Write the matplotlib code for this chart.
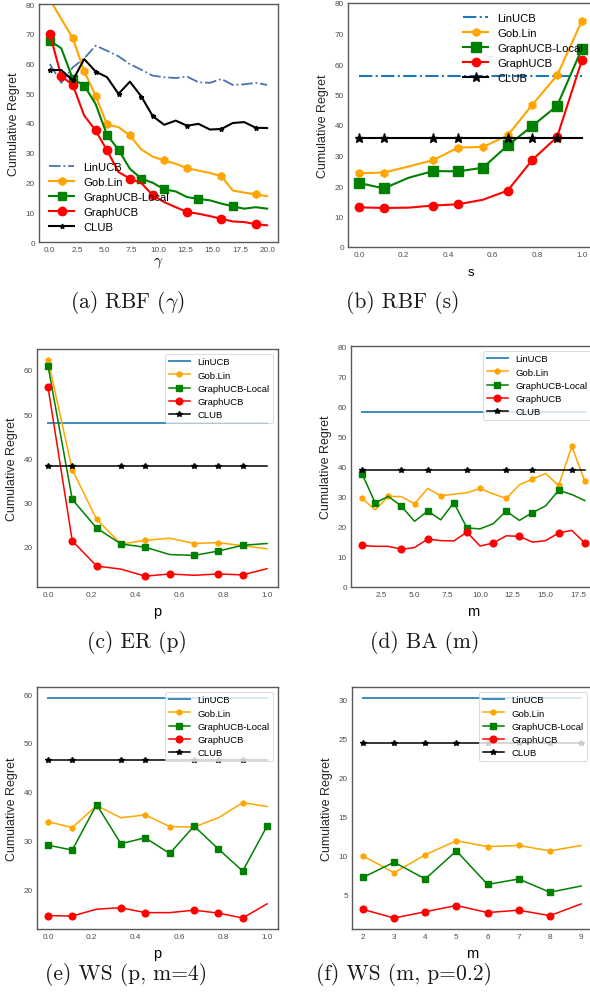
import numpy as np
import matplotlib
matplotlib.use("Agg")
import matplotlib.pyplot as plt

plt.rcParams["font.family"] = ["Liberation Sans", "DejaVu Sans"]
plt.rcParams["mathtext.fontset"] = "cm"

labels = ["LinUCB", "Gob.Lin", "GraphUCB-Local", "GraphUCB", "CLUB"]

# (a) RBF (gamma)
gamma = [0.0, 1.05, 2.11, 3.16, 4.21, 5.26, 6.32, 7.37, 8.42, 9.47,
         10.53, 11.58, 12.63, 13.68, 14.74, 15.79, 16.84, 17.89, 18.95, 20.0]
a_lin = [59.8, 53.5, 58.7, 61.7, 66.0, 64.3, 62.4, 59.8, 57.9, 55.9,
         55.4, 55.1, 55.6, 53.7, 53.5, 54.8, 52.8, 53.0, 53.5, 52.8]
a_gob = [81.5, 75.0, 68.5, 57.4, 49.2, 39.5, 38.6, 35.8, 31.1, 28.7,
         27.4, 26.3, 24.8, 24.0, 23.2, 22.1, 17.3, 16.6, 16.0, 15.4]
a_local = [67.7, 65.1, 54.8, 52.6, 46.4, 36.0, 31.0, 24.6, 21.3, 19.9,
           17.7, 17.0, 15.1, 14.5, 14.0, 12.9, 12.0, 11.2, 11.7, 11.2]
a_graph = [69.9, 55.7, 52.8, 42.5, 37.5, 30.8, 23.5, 21.3, 19.8, 15.7,
           13.4, 11.7, 10.1, 9.5, 8.7, 7.8, 6.9, 6.7, 6.0, 5.6]
a_club = [57.8, 57.8, 54.3, 61.5, 57.3, 55.4, 49.8, 53.9, 48.9, 42.3,
          39.4, 40.8, 39.1, 39.7, 37.8, 38.0, 40.0, 40.3, 38.4, 38.3]

# (b) RBF (s)
s_vals = [0.0, 0.111, 0.222, 0.333, 0.444, 0.556, 0.667, 0.778, 0.889, 1.0]
b_lin = 56.2
b_gob = [24.2, 24.4, 26.4, 28.5, 32.6, 32.8, 36.6, 46.7, 56.3, 74.1]
b_local = [21.0, 19.2, 22.7, 24.9, 24.8, 26.0, 33.3, 39.7, 46.3, 65.0]
b_graph = [13.0, 12.8, 12.9, 13.6, 14.0, 15.5, 18.5, 28.6, 36.1, 61.2]
b_club = 35.6

# (c) ER (p)
p_vals = [0.0, 0.111, 0.222, 0.333, 0.444, 0.556, 0.667, 0.778, 0.889, 1.0]
c_lin = 48.0
c_gob = [62.3, 37.4, 26.2, 20.6, 21.4, 21.9, 20.7, 20.9, 20.2, 19.5]
c_local = [61.0, 30.7, 24.2, 20.6, 19.85, 18.2, 18.0, 19.0, 20.3, 20.7]
c_graph = [56.2, 21.3, 15.6, 14.9, 13.3, 13.8, 13.5, 13.8, 13.6, 15.0]
c_club = 38.3

# (d) BA (m)
m_ba = list(range(1, 19))
d_lin = 58.0
d_gob = [29.4, 25.6, 30.1, 30.0, 27.6, 32.7, 30.3, 30.8, 31.3, 32.7,
         30.9, 29.4, 33.9, 35.8, 37.7, 33.7, 46.7, 35.1]
d_local = [37.5, 27.9, 30.1, 26.8, 21.8, 25.2, 22.3, 28.0, 19.6, 19.3,
           21.0, 25.2, 22.1, 24.7, 26.9, 32.1, 30.7, 28.7]
d_graph = [13.8, 13.5, 13.5, 12.5, 13.1, 15.9, 15.4, 15.3, 18.2, 13.6,
           14.6, 17.0, 16.8, 14.9, 15.4, 17.9, 18.8, 14.6]
d_club = 38.95

# (e) WS (p, m=4)
e_lin = 59.2
e_gob = [33.9, 32.7, 37.2, 34.7, 35.3, 32.9, 32.8, 34.7, 37.8, 37.0]
e_local = [29.1, 28.1, 37.4, 29.4, 30.6, 27.4, 33.0, 28.3, 23.8, 33.0]
e_graph = [14.7, 14.6, 16.0, 16.3, 15.3, 15.3, 15.8, 15.2, 14.2, 17.1]
e_club = 46.6

# (f) WS (m, p=0.2)
m_ws = list(range(2, 10))
f_lin = 30.2
f_gob = [9.96, 7.8, 10.1, 11.9, 11.15, 11.3, 10.6, 11.3]
f_local = [7.2, 9.15, 7.0, 10.6, 6.3, 7.0, 5.3, 6.1]
f_graph = [3.1, 2.0, 2.8, 3.6, 2.7, 3.0, 2.3, 3.8]
f_club = 24.4

captions = [r"(a) RBF ($\gamma$)", "(b) RBF (s)", "(c) ER (p)", "(d) BA (m)",
            "(e) WS (p, m=4)", "(f) WS (m, p=0.2)"]

W, H = 590, 1004
fig = plt.figure(figsize=(W / 100, H / 100), dpi=100)


def add_ax(l, t, r, b):
    ax = fig.add_axes([l / W, 1 - b / H, (r - l) / W, (b - t) / H])
    for sp in ax.spines.values():
        sp.set_color("0.35")
        sp.set_linewidth(1.0)
    ax.tick_params(length=0, labelsize=5.9, labelcolor="0.3", pad=3)
    ax.set_ylabel("Cumulative Regret", fontsize=9, color="0.15", labelpad=4)
    return ax


def caption(x, y, txt):
    fig.text(x / W, 1 - y / H, txt, ha="center", va="center", fontsize=15.5,
             color="0.1", family="cmr10")


def const(v, xs):
    return [v] * len(xs)


# ---- (a)
ax = add_ax(39, 5, 278, 243)
ax.plot(gamma, a_lin, "-.", color="#4C72B0", lw=1.3, label=labels[0])
ax.plot(gamma, a_gob, "-", color="orange", lw=1.5, marker="h", ms=5.5,
        markevery=[2, 3, 4, 5, 7, 10, 12, 15, 18], label=labels[1])
ax.plot(gamma, a_local, "-", color="green", lw=1.5, marker="s", ms=5.5,
        markevery=[0, 2, 3, 5, 6, 8, 10, 13, 16], label=labels[2])
ax.plot(gamma, a_graph, "-", color="red", lw=1.5, marker="o", ms=6,
        markevery=[0, 1, 2, 4, 5, 7, 9, 12, 15, 18], label=labels[3])
ax.plot(gamma, a_club, "-", color="black", lw=1.5, marker="*", ms=3.5,
        markevery=[0, 2, 4, 6, 8, 9, 12, 15, 18], label=labels[4])
ax.set_ylim(0, 80)
ax.set_xlabel(r"$\gamma$", fontsize=11, labelpad=1)
ax.legend(loc="lower left", frameon=False, fontsize=8.1, handlelength=2.2,
          labelspacing=0.45)
caption(127, 303, captions[0])

# ---- (b)
ax = add_ax(348, 4, 593, 248)
ax.plot(s_vals, const(b_lin, s_vals), "-.", color="#1f77b4", lw=1.5, label=labels[0])
ax.plot(s_vals, b_gob, "-", color="orange", lw=1.5, marker="h", ms=5.5,
        markevery=[0, 1, 3, 4, 5, 6, 7, 8, 9], label=labels[1])
ax.plot(s_vals, b_local, "-", color="green", lw=1.5, marker="s", ms=6.5,
        markevery=[0, 1, 3, 4, 5, 6, 7, 8, 9], label=labels[2])
ax.plot(s_vals, b_graph, "-", color="red", lw=1.5, marker="o", ms=6,
        markevery=[0, 1, 3, 4, 6, 7, 8, 9], label=labels[3])
ax.plot(s_vals, const(b_club, s_vals), "-", color="black", lw=1.5, marker="*", ms=6.5,
        markevery=[0, 1, 3, 4, 6, 7, 8], label=labels[4])
ax.set_ylim(0, 80)
ax.set_xlabel("s", fontsize=9.5, labelpad=6)
ax.legend(loc="upper right", frameon=False, fontsize=8.1, handlelength=2.2,
          labelspacing=0.45)
caption(403, 303, captions[1])


def small_panel(box, xs, lin, gob, local, graph, club, marks, xlabel):
    ax = add_ax(*box)
    ax.plot(xs, const(lin, xs), "-", color="#1f77b4", lw=1.4, alpha=0.85, label=labels[0])
    ax.plot(xs, gob, "-", color="orange", lw=1.1, marker="h", ms=3.8,
            markevery=marks[0], label=labels[1])
    ax.plot(xs, local, "-", color="green", lw=1.1, marker="s", ms=4.3,
            markevery=marks[1], label=labels[2])
    ax.plot(xs, graph, "-", color="red", lw=1.1, marker="o", ms=4.8,
            markevery=marks[2], label=labels[3])
    ax.plot(xs, const(club, xs), "-", color="black", lw=1.1, marker="*", ms=4,
            markevery=marks[3], label=labels[4])
    ax.set_xlabel(xlabel, fontsize=10.5, labelpad=4)
    lg = ax.legend(loc="upper right", fontsize=6.8, handlelength=2.2, framealpha=0.8,
                   edgecolor="0.8", labelspacing=0.45)
    lg.get_frame().set_linewidth(0.6)
    return ax


# ---- (c)
ax = small_panel((37, 350, 278, 588), p_vals, c_lin, c_gob, c_local, c_graph, c_club,
                 [[0, 1, 2, 3, 4, 6, 7], [0, 1, 2, 3, 4, 6, 7, 8],
                  [0, 1, 2, 4, 5, 7, 8], [0, 1, 3, 4, 6, 7, 8]], "p")
caption(137, 643, captions[2])

# ---- (d)
ax = small_panel((351, 347, 596, 588), m_ba, d_lin, d_gob, d_local, d_graph, d_club,
                 [[0, 2, 4, 6, 9, 11, 13, 15, 16, 17], [0, 1, 3, 5, 7, 8, 11, 13, 15],
                  [0, 3, 5, 8, 10, 12, 15, 17], [0, 3, 5, 8, 11, 13, 16]], "m")
ax.set_ylim(0, 80)
caption(425, 643, captions[3])

# ---- (e)
ax = small_panel((37, 688, 278, 930), p_vals, e_lin, e_gob, e_local, e_graph, e_club,
                 [[0, 1, 2, 4, 5, 6, 8], list(range(10)),
                  [0, 1, 3, 4, 6, 7, 8], [0, 1, 3, 4, 6, 7, 8]], "p")
caption(126, 975, captions[4])

# ---- (f)
ax = small_panel((352, 688, 592, 930), m_ws, f_lin, f_gob, f_local, f_graph, f_club,
                 [list(range(7)), list(range(7)), list(range(7)), list(range(8))], "m")
caption(404, 975, captions[5])

fig.savefig("out.png", dpi=100, facecolor="white")
